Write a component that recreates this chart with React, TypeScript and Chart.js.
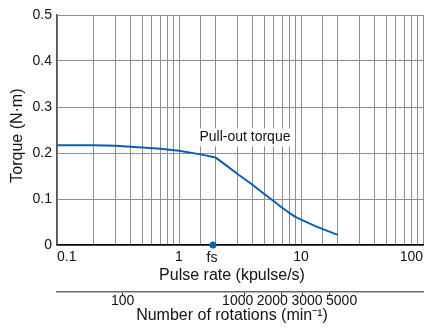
import React, { useEffect, useRef } from 'react';
import { Chart, registerables } from 'chart.js';

Chart.register(...registerables);

// ---- data ----
const pulseRate = [0.1, 0.2, 0.3, 0.5, 0.7, 1, 1.5, 2, 2.5, 3, 4, 5, 6, 7, 8, 9, 10, 13.4, 20];
const torque = [0.217, 0.217, 0.216, 0.212, 0.209, 0.205, 0.197, 0.19, 0.171, 0.155, 0.131, 0.111, 0.095, 0.081, 0.07, 0.061, 0.055, 0.04, 0.022];
const pulseTickLabels = [0.1, 1, 10, 100];
const torqueRange = [0, 0.5];
const torqueStep = 0.1;
const rotationTicks = [100, 1000, 2000, 3000, 5000];
const rotationRange = [29, 29000];
const fsRate = 1.9;
const fsLabel = 'fs';
const curveLabel = 'Pull-out torque';
const curveLabelAt = [3.47, 0.234];
const xTitle = 'Pulse rate (kpulse/s)';
const x2Title = 'Number of rotations (min\u207B\u00B9)';
const yTitle = 'Torque (N\u00B7m)';

const FONT = "'Liberation Sans', Arial, sans-serif";
const BLUE = '#0b5fad';
const TEXT = '#111';
const GRID = '#8f8f8f';

const isPow10 = (v: number) => Math.abs(Math.log10(v) - Math.round(Math.log10(v))) < 1e-6;

const annotations = {
  id: 'annotations',
  beforeDatasetsDraw(chart: any) {
    const { ctx, scales } = chart;
    const x = scales.x, y = scales.y;
    ctx.save();
    ctx.font = `14px ${FONT}`;
    const px = x.getPixelForValue(curveLabelAt[0]);
    const py = y.getPixelForValue(curveLabelAt[1]);
    const w = ctx.measureText(curveLabel).width;
    ctx.fillStyle = '#fff';
    ctx.fillRect(px - w / 2 - 2, py - 9, w + 4, 18);
    ctx.fillStyle = TEXT;
    ctx.textAlign = 'center';
    ctx.textBaseline = 'middle';
    ctx.fillText(curveLabel, px, py);
    ctx.restore();
  },
  afterDraw(chart: any) {
    const { ctx, scales } = chart;
    const x = scales.x, x2 = scales.x2;
    ctx.save();
    ctx.font = `14px ${FONT}`;
    ctx.fillStyle = TEXT;
    ctx.textAlign = 'center';
    ctx.textBaseline = 'middle';
    // fs label
    ctx.fillText(fsLabel, x.getPixelForValue(fsRate) - 1, x.top + 13);
    // rotation tick labels, spread apart where they would overlap
    const xs = rotationTicks.map((v) => x2.getPixelForValue(v));
    const ws = rotationTicks.map((v) => ctx.measureText(String(v)).width);
    const gap = 3.5;
    type Cl = { idx: number[]; center: number };
    let clusters: Cl[] = rotationTicks.map((_, i) => ({ idx: [i], center: xs[i] }));
    const total = (c: Cl) => c.idx.reduce((s, i) => s + ws[i], 0) + gap * (c.idx.length - 1);
    let changed = true;
    while (changed) {
      changed = false;
      for (let k = 0; k < clusters.length - 1; k++) {
        const a = clusters[k], b = clusters[k + 1];
        const aRight = a.center + total(a) / 2;
        const bLeft = b.center - total(b) / 2;
        if (bLeft < aRight + gap) {
          const idx = a.idx.concat(b.idx);
          const center = idx.reduce((s, i) => s + xs[i], 0) / idx.length;
          clusters.splice(k, 2, { idx, center });
          changed = true;
          break;
        }
      }
    }
    const ly = x2.top + 9.5;
    clusters.forEach((c) => {
      let cur = c.center - total(c) / 2;
      c.idx.forEach((i) => {
        ctx.fillText(String(rotationTicks[i]), cur + ws[i] / 2, ly);
        cur += ws[i] + gap;
      });
    });
    ctx.restore();
  },
};

export default function App() {
  const ref = useRef<HTMLCanvasElement>(null);
  useEffect(() => {
    document.body.style.margin = '0';
    const chart = new Chart(ref.current!, {
      type: 'line',
      data: {
        datasets: [
          {
            data: pulseRate.map((p, i) => ({ x: p, y: torque[i] })),
            borderColor: BLUE,
            borderWidth: 2,
            borderJoinStyle: 'round',
            pointRadius: 0,
            tension: 0,
            fill: false,
          },
          {
            data: [{ x: fsRate, y: 0 }],
            showLine: false,
            pointRadius: 3.5,
            pointBackgroundColor: BLUE,
            pointBorderColor: BLUE,
            pointBorderWidth: 0,
            clip: false as any,
          },
        ],
      },
      options: {
        responsive: false,
        animation: false,
        events: [],
        layout: { padding: { top: 15, right: 12, left: 0, bottom: 0 } },
        plugins: { legend: { display: false }, tooltip: { enabled: false } },
        scales: {
          x: {
            type: 'logarithmic',
            position: 'bottom',
            min: pulseTickLabels[0],
            max: pulseTickLabels[pulseTickLabels.length - 1],
            weight: 0,
            afterFit: (s: any) => { s.height = 47; },
            grid: { color: GRID, lineWidth: 1, drawTicks: false },
            border: { color: '#000', width: 1.5 },
            ticks: {
              autoSkip: false,
              maxRotation: 0,
              align: 'inner',
              padding: 4,
              color: TEXT,
              font: { family: FONT, size: 14 },
              callback: (v: any) => {
                const n = Number(v);
                return isPow10(n) && pulseTickLabels.some((t) => Math.abs(t - n) < 1e-9) ? String(n) : '';
              },
            },
            title: {
              display: true,
              text: xTitle + '\u2003',
              color: TEXT,
              font: { family: FONT, size: 16 },
              padding: { top: 0, bottom: 7 },
            },
          },
          x2: {
            type: 'logarithmic',
            position: 'bottom',
            min: rotationRange[0],
            max: rotationRange[1],
            weight: 1,
            afterFit: (s: any) => { s.height = 39; },
            afterBuildTicks: (s: any) => { s.ticks = rotationTicks.map((v) => ({ value: v })); },
            grid: { drawOnChartArea: false, drawTicks: true, tickLength: 4, color: '#333', lineWidth: 1 },
            border: { color: '#6a6a6a', width: 1.5 },
            ticks: {
              autoSkip: false,
              maxRotation: 0,
              color: 'rgba(0,0,0,0)',
              font: { family: FONT, size: 14 },
              callback: (v: any) => String(v),
            },
            title: {
              display: true,
              text: x2Title + '\u2003',
              color: TEXT,
              font: { family: FONT, size: 16 },
              padding: { top: 0, bottom: 6 },
            },
          },
          y: {
            type: 'linear',
            min: torqueRange[0],
            max: torqueRange[1],
            afterFit: (s: any) => { s.width = 57; },
            grid: { color: GRID, lineWidth: 1, drawTicks: false },
            border: { color: '#555', width: 1.5 },
            ticks: {
              stepSize: torqueStep,
              padding: 5,
              color: TEXT,
              font: { family: FONT, size: 14 },
              callback: (v: any) => (Number(v) === 0 ? '0' : Number(v).toFixed(1)),
            },
            title: {
              display: true,
              text: yTitle + '\u2002\u2009',
              color: TEXT,
              font: { family: FONT, size: 16 },
              padding: { top: 8, bottom: 0 },
            },
          },
        },
      },
      plugins: [annotations],
    } as any);
    return () => chart.destroy();
  }, []);
  return <canvas ref={ref} width={435} height={331} style={{ display: 'block' }} />;
}
